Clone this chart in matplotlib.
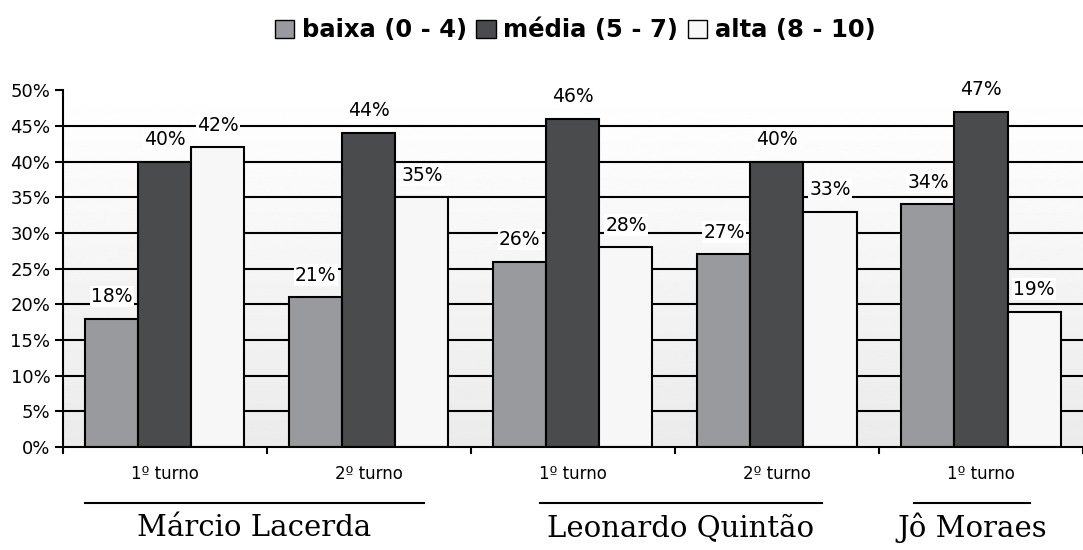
import numpy as np
import matplotlib.pyplot as plt
from matplotlib.patches import Patch
import matplotlib.transforms as mtransforms

# rating bands per candidate / round (percent of respondents)
turnos = ['1º turno', '2º turno', '1º turno', '2º turno', '1º turno']
baixa = [18, 21, 26, 27, 34]
media = [40, 44, 46, 40, 47]
alta = [42, 35, 28, 33, 19]

candidatos = ['Márcio Lacerda', 'Leonardo Quintão', 'Jô Moraes']

series = [
    ('baixa (0 - 4)', baixa, '#999a9e'),
    ('média (5 - 7)', media, '#4a4b4d'),
    ('alta (8 - 10)', alta, '#f7f7f7'),
]

plt.rcParams['font.family'] = ['DejaVu Sans']

fig = plt.figure(figsize=(10.83, 5.5), dpi=100)
ax = fig.add_axes([0.058, 0.187, 0.942, 0.649])

x = np.arange(len(turnos))
w = 0.26

# soft vertical gradient behind the bars
grad = np.linspace(1.0, 0.92, 256).reshape(-1, 1)
ax.imshow(grad, extent=[0, 1, 0, 1], transform=ax.transAxes, aspect='auto',
          cmap='gray', vmin=0, vmax=1, zorder=0)

for i, (nome, vals, cor) in enumerate(series):
    pos = x + (i - 1) * w
    ax.bar(pos, vals, w, color=cor, edgecolor='black', linewidth=1.5,
           label=nome, zorder=2)
    for px, v in zip(pos, vals):
        ax.annotate(f'{v}%', (px, v), xytext=(0, 16), textcoords='offset points',
                    ha='center', va='center', fontsize=13.5, zorder=4,
                    bbox=dict(facecolor='white', edgecolor='none', pad=1))

ax.set_xlim(-0.5, len(turnos) - 0.5)
ax.set_ylim(0, 50)
ax.set_yticks(np.arange(0, 51, 5))
ax.set_yticklabels([f'{t}%' for t in range(0, 51, 5)], fontsize=13)
for t in range(5, 50, 5):
    ax.axhline(t, color='black', linewidth=1.5, zorder=1)

ax.set_xticks(np.arange(-0.5, len(turnos), 1.0))
ax.set_xticklabels([])
ax.set_xticks(x, minor=True)
ax.set_xticklabels(turnos, minor=True, fontsize=12)
ax.tick_params(axis='x', which='major', length=5, width=1.5, direction='out')
ax.tick_params(axis='x', which='minor', length=0, pad=13)
ax.tick_params(axis='y', length=6, width=1.5, pad=3)

for s in ['top', 'right']:
    ax.spines[s].set_visible(False)
for s in ['left', 'bottom']:
    ax.spines[s].set_linewidth(1.5)

# candidate names with an underline spanning their rounds
trans = mtransforms.blended_transform_factory(ax.transData, fig.transFigure)
linhas = [(-0.39, 1.27), (1.84, 3.22), (3.67, 4.24)]
for nome, (a, b) in zip(candidatos, linhas):
    ax.plot([a, b], [0.085, 0.085], color='black', linewidth=1.5,
            transform=trans, clip_on=False)
    ax.text((a + b) / 2, 0.04, nome, transform=trans, ha='center', va='center',
            fontsize=21, family=['DejaVu Serif'])

fig.legend(handles=[Patch(facecolor=c, edgecolor='black', label=n) for n, _, c in series],
           loc='center', bbox_to_anchor=(0.531, 0.945), ncol=3, frameon=False,
           prop={'size': 17.5, 'weight': 'bold'}, handlelength=0.8, handleheight=0.8,
           handletextpad=0.3, columnspacing=0.4)

fig.savefig('out.png', dpi=100)
